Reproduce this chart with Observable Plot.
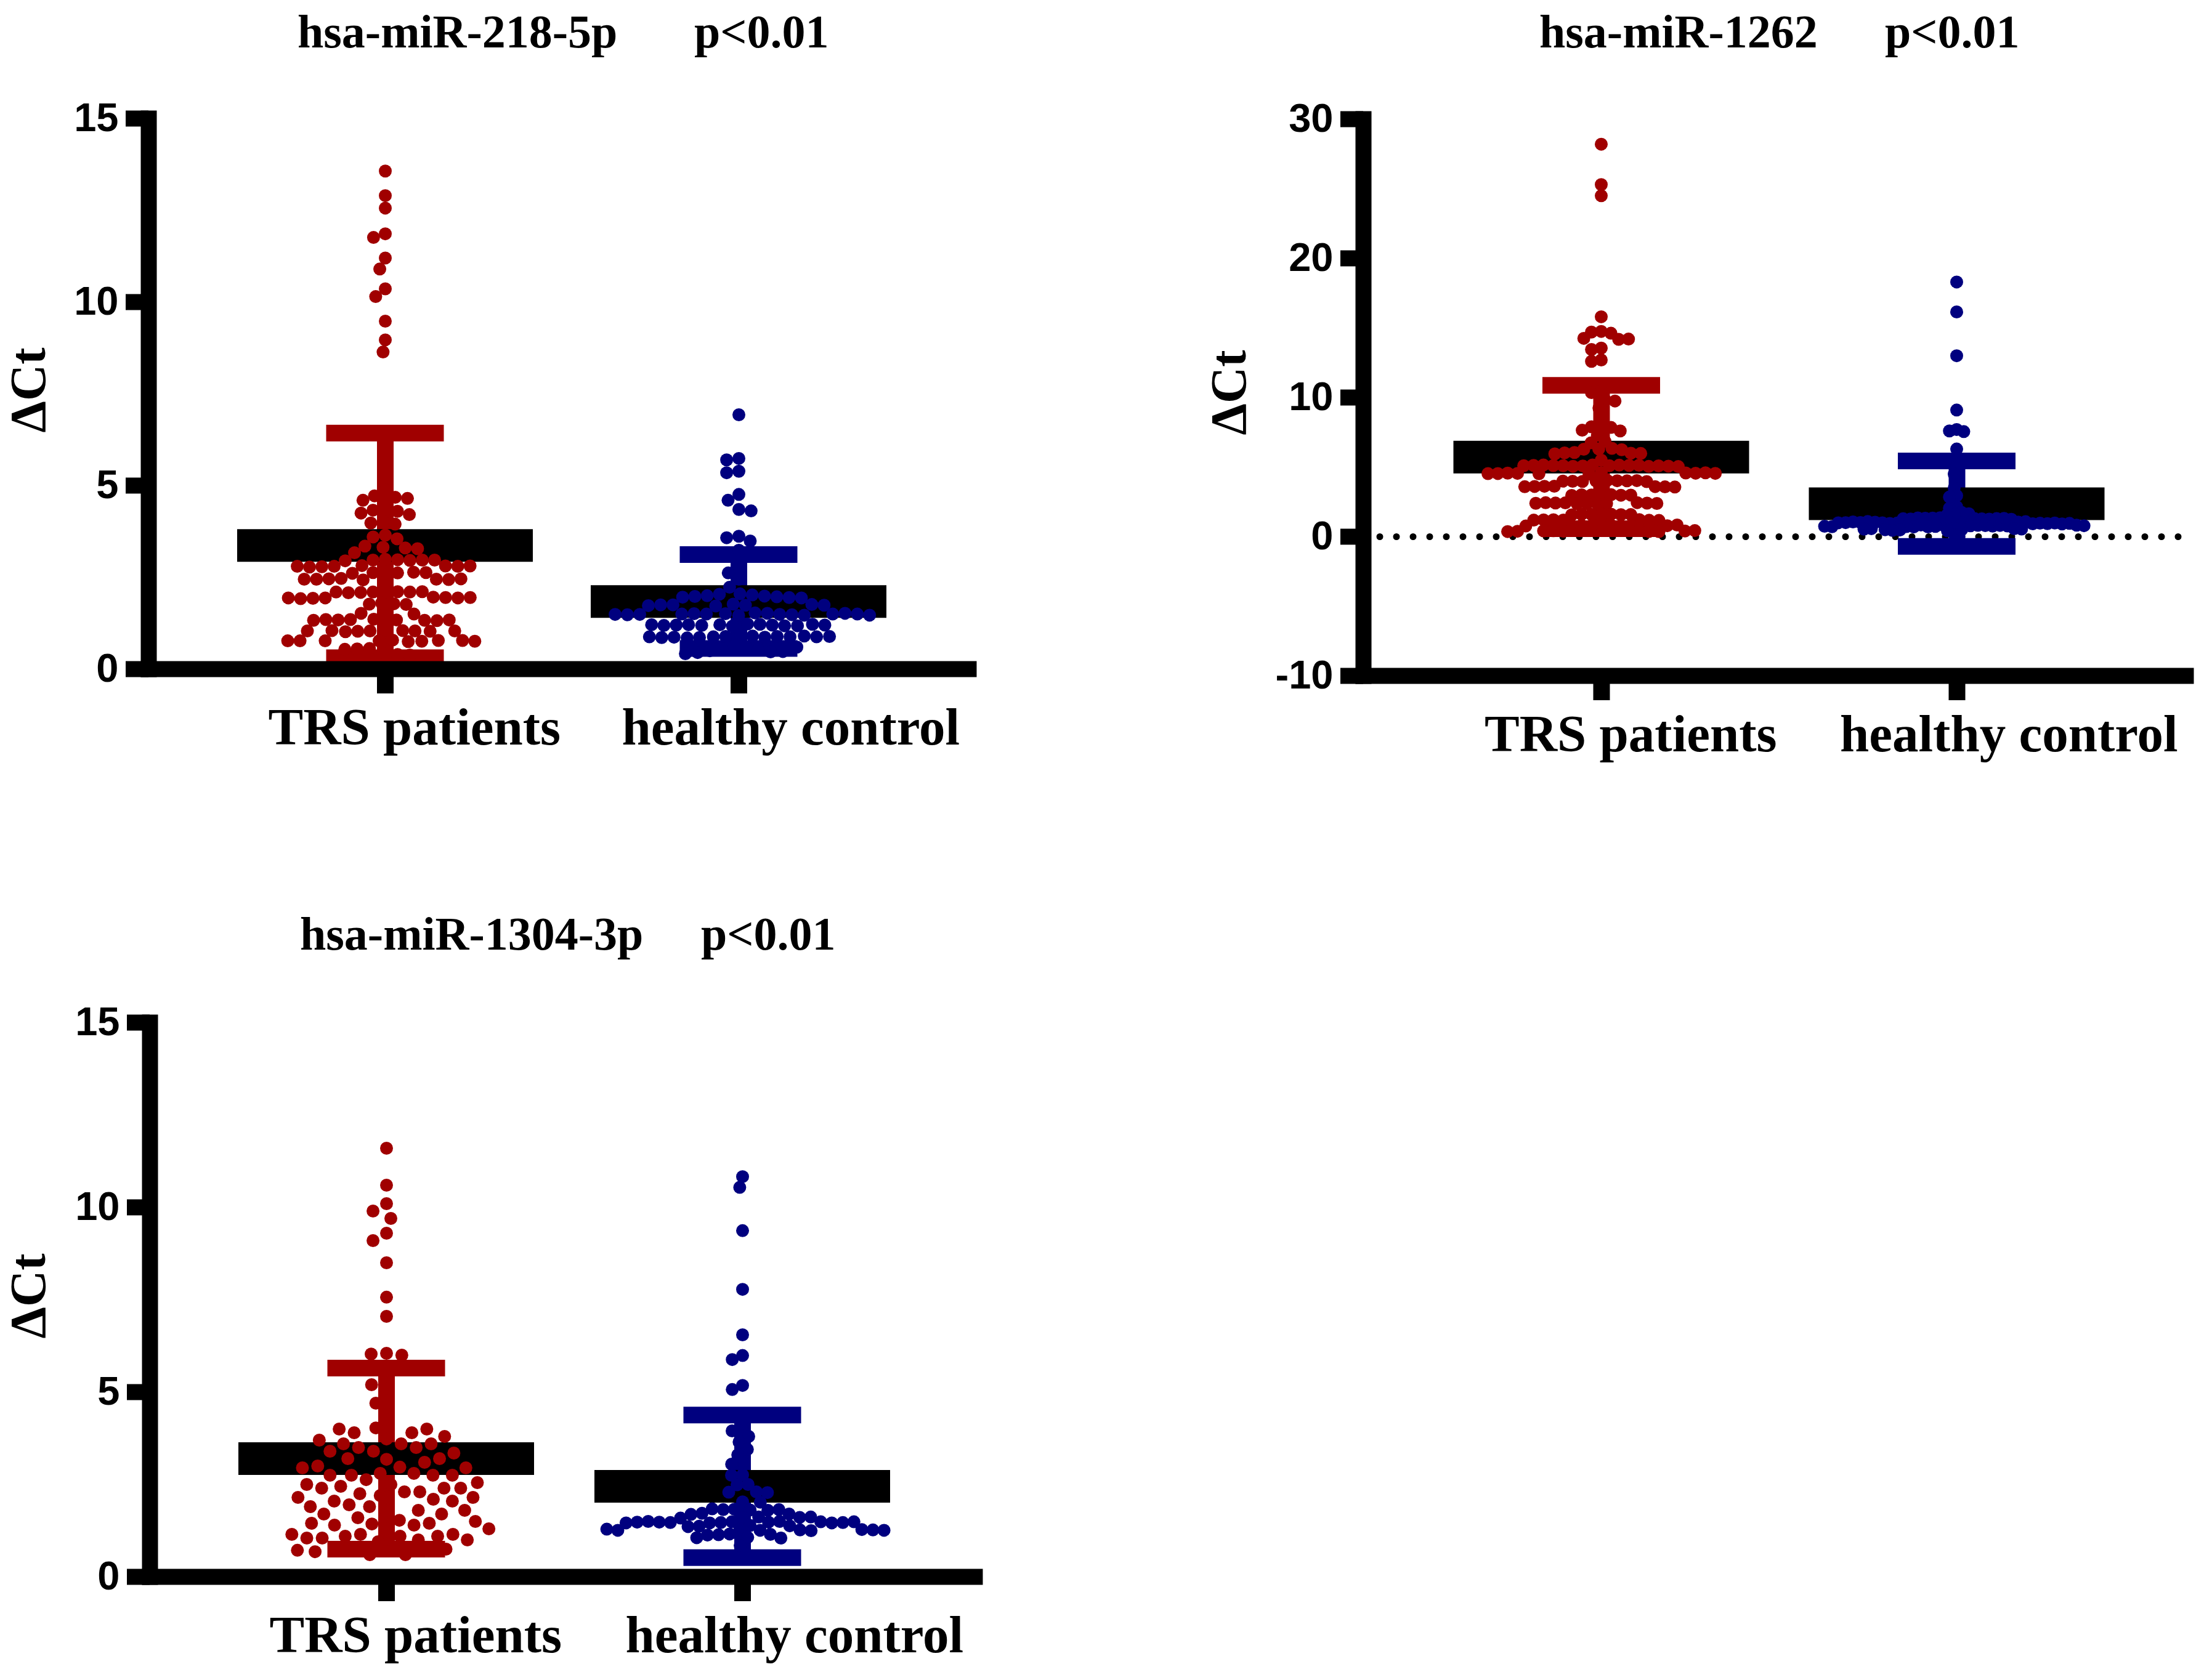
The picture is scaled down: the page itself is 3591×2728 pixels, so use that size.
<!DOCTYPE html>
<html>
<head>
<meta charset="utf-8">
<script src="https://cdn.jsdelivr.net/npm/d3@7"></script>
<script src="https://cdn.jsdelivr.net/npm/@observablehq/plot@0.6"></script>
<style>
  body { margin: 0; background: #fff; }
  #page { position: relative; width: 3591px; height: 2728px; overflow: hidden; background: #fff; }
  .title { position: absolute; font-family: "Liberation Serif", "Times New Roman", serif; font-weight: bold;
           font-size: 76px; line-height: 76px; white-space: pre; color: #000; }
  .panel { position: absolute; }
</style>
</head>
<body>
<div id="page">
  <div class="title" style="left:483px;top:13px">hsa-miR-218-5p</div>
  <div class="title" style="left:1127px;top:13px">p&lt;0.01</div>
  <div class="title" style="left:2499px;top:13px">hsa-miR-1262</div>
  <div class="title" style="left:3060px;top:13px">p&lt;0.01</div>
  <div class="title" style="left:487px;top:1478px">hsa-miR-1304-3p</div>
  <div class="title" style="left:1138px;top:1478px">p&lt;0.01</div>
</div>
<script>
const groups = ["TRS patients", "healthy control"];
const red = "#a00000";
const blue = "#00007f";

// hsa-miR-218-5p
const mir218TRS = [13.57, 12.9, 12.56, 11.86, 11.76, 11.2, 10.9, 10.36, 10.15, 9.48, 8.97, 8.64,
  4.88, 4.72, 4.68, 4.65, 4.6, 4.35, 4.33, 4.3, 4.25, 4.21, 4.02, 3.98, 3.95,
  3.65, 3.6, 3.55, 3.35, 3.32, 3.3, 3.28, 3.17,
  2.99, 2.97, 2.98, 2.96, 2.97, 2.95, 2.97,
  2.82, 2.8, 2.81, 2.79, 2.8, 2.78, 2.81, 2.8,
  2.65, 2.63, 2.62, 2.64, 2.61, 2.63,
  2.47, 2.45, 2.46, 2.44, 2.45, 2.43, 2.46, 2.45,
  2.12, 2.1, 2.11, 2.09, 2.1, 2.08, 2.11, 2.1,
  1.96, 1.94, 1.95, 1.93, 1.94, 1.92, 1.95, 1.94,
  1.8, 1.78, 1.77, 1.76,
  1.52, 1.5, 1.48,
  1.36, 1.34, 1.35, 1.33, 1.34, 1.32, 1.35, 1.34, 1.33,
  1.06, 1.04, 1.05, 1.03, 1.04, 1.02, 1.05, 1.04, 1.03, 1.04,
  0.79, 0.77, 0.78, 0.76, 0.77, 0.75, 0.78, 0.77, 0.76, 0.77,
  0.56, 0.55, 0.54, 0.42, 0.4, 0.38];
const mir218HC = [6.93, 5.74, 5.7, 5.39, 5.35, 4.76, 4.6, 4.35, 4.31, 3.62, 3.58, 3.49, 3.24, 2.79, 2.62, 2.45, 2.23,
  2.05, 2.02, 2.04, 1.99, 2.0, 1.97, 1.98, 1.95, 1.96, 1.94,
  1.77, 1.75, 1.76, 1.74, 1.75, 1.72, 1.74, 1.73,
  1.53, 1.51, 1.52, 1.5, 1.49, 1.51, 1.48, 1.5, 1.47, 1.5, 1.49, 1.52, 1.46, 1.48, 1.5, 1.49, 1.47,
  1.23, 1.21, 1.22, 1.2, 1.19, 1.21, 1.18, 1.2, 1.17, 1.22, 1.19, 1.2, 1.18, 1.21,
  0.91, 0.89, 0.9, 0.88, 0.87, 0.89, 0.86, 0.88, 0.85, 0.9, 0.87, 0.88, 0.86, 0.89, 0.88,
  0.62, 0.58, 0.6, 0.55, 0.52, 0.5, 0.47, 0.45, 0.48, 0.42];
const mir218Mean = [3.37, 1.84];
const mir218SD = [3.06, 1.28];

// hsa-miR-1262
const mir1262TRS = [28.2, 25.3, 24.5, 15.8, 14.75, 14.7, 14.62, 14.25, 14.18, 14.2, 13.55, 13.45, 12.7, 12.6,
  10.45, 10.35, 9.8, 9.75, 9.25, 7.95, 7.9, 7.85, 7.65, 7.6, 7.3, 6.85, 6.75,
  6.35, 6.3, 6.28, 6.25, 6.05, 6.0, 6.02, 5.98, 5.95, 5.5,
  5.16, 5.1, 5.14, 5.08, 5.12, 5.06, 5.13, 5.1, 5.05, 5.11, 5.09, 5.15, 5.07, 5.12, 5.04, 5.1,
  4.6, 4.55, 4.58, 4.52, 4.57, 4.5, 4.56, 4.54, 4.59, 4.53, 4.55,
  4.04, 4.0, 4.02, 3.97, 4.01, 3.98, 4.03, 3.99, 3.96,
  3.63, 3.6, 3.62, 3.58, 3.61, 3.57, 3.59,
  3.03, 3.0, 3.02, 2.98, 3.01, 2.97, 2.99,
  2.45, 2.4, 2.43, 2.38, 2.42, 2.36, 2.41, 2.39, 2.44, 2.37, 2.4,
  1.63, 1.6, 1.62, 1.58, 1.61, 1.57, 1.59,
  1.23, 1.2, 1.22, 1.18, 1.21, 1.17, 1.19,
  0.85, 0.8, 0.83, 0.78, 0.82, 0.76, 0.81, 0.79, 0.84, 0.77,
  0.45, 0.4, 0.43, 0.38, 0.42, 0.36, 0.41, 0.39, 0.44, 0.37];
const mir1262HC = [18.3, 16.15, 13.0, 9.1, 7.7, 7.6, 7.55, 6.3, 5.0, 4.5, 4.0, 3.5, 2.95, 2.85, 2.15, 2.05, 1.75, 1.65, 1.6, 1.55,
  1.36, 1.31, 1.34, 1.28, 1.33, 1.26, 1.35, 1.3, 1.27, 1.32, 1.29, 1.25,
  1.1, 1.03, 1.07, 0.98, 1.05, 0.95, 1.08, 1.0, 0.93, 1.04, 0.97, 1.09, 0.94, 1.02, 0.99, 1.06, 0.92, 1.01, 0.96, 1.0,
  0.85, 0.78, 0.82, 0.74, 0.8, 0.71, 0.84, 0.76, 0.7, 0.81, 0.73, 0.83, 0.77, 0.72, 0.79, 0.75,
  0.6, 0.52, 0.57, 0.48, 0.55, 0.45, 0.58, 0.5, 0.43, 0.54];
const mir1262Mean = [5.72, 2.37];
const mir1262SD = [5.15, 3.07];

// hsa-miR-1304-3p
const mir1304TRS = [11.6, 10.6, 10.1, 9.9, 9.7, 9.3, 9.1, 8.5, 7.57, 7.05, 6.05, 6.03, 6.0,
  1.3, 0.95,
  3.18, 2.8, 2.5, 2.2, 1.8, 1.43, 1.1,
  3.73, 3.4, 2.97, 2.63, 2.3, 1.53, 1.15, 0.7,
  4.03, 3.6, 2.8, 2.25, 1.9, 1.4, 1.0,
  5.1, 4.4, 3.9, 3.5, 2.75, 2.3, 1.95, 1.1,
  5.2, 3.9, 3.5, 3.1, 2.75, 2.45, 2.1, 1.8, 1.45, 1.1, 0.8,
  4.7, 4.0, 3.6, 3.2, 2.75, 2.4, 2.05, 1.7, 1.4, 1.05, 0.6,
  4.0, 3.6, 3.2, 2.75, 2.4, 2.05, 1.7, 1.15,
  3.8, 3.4, 3.0, 2.4, 1.9, 1.6, 0.6,
  3.7, 3.35, 2.95, 2.5, 2.15, 1.8, 1.45, 1.05, 0.7,
  2.95, 2.55, 2.15, 1.5, 1.15,
  1.3, 1.0, 0.75, 0.7, 0.68, 0.72];
const mir1304HC = [10.83, 10.54, 9.37, 7.78, 6.55, 5.99, 5.88, 5.18, 5.07, 4.05, 3.95, 3.8, 3.65, 3.45, 3.3,
  3.06, 3.05, 2.76, 2.75, 2.5, 2.49, 2.3, 2.29, 2.28, 2.03, 2.02,
  1.83, 1.81, 1.82, 1.8, 1.84, 1.82,
  1.72, 1.7, 1.69,
  1.62, 1.6, 1.61, 1.59, 1.62,
  1.49, 1.47, 1.48, 1.46, 1.5, 1.47, 1.49, 1.48, 1.46, 1.5, 1.47, 1.48, 1.49, 1.46,
  1.39, 1.37, 1.38, 1.36,
  1.28, 1.26, 1.27, 1.25, 1.28, 1.26, 1.27, 1.29, 1.26,
  1.16, 1.14, 1.15, 1.13,
  1.07, 1.05, 1.06,
  0.85];
const mir1304Mean = [3.2, 2.45];
const mir1304SD = [2.45, 1.93];

const serif = "Liberation Serif, Times New Roman, serif";
const sans = "Liberation Sans, Arial, sans-serif";

function panel(p) {
  const stats = groups.map((g, i) => ({group: g, mean: p.mean[i], sd: p.sd[i]}));
  const xs = Plot.scale({x: {type: "band", domain: groups, range: p.xRange, padding: 0}});
  const mid = (p.marginLeft + p.width - p.marginRight) / 2;
  // offset from the frame middle (dodge anchor) to the band centre;
  // Plot already shifts marks by half a band on a band x scale
  const shift = (g) => xs.apply(g) - mid;
  const barInset = (xs.bandwidth - 480) / 2;
  const capInset = (xs.bandwidth - 191) / 2;
  const swarm = (values, g, color, padding) =>
    Plot.dot(values, Plot.dodgeX({anchor: "middle", padding},
      {y: (d) => d, r: 10.5, fill: color, dx: shift(g)}));

  const chart = Plot.plot({
    width: p.width,
    height: p.height,
    marginTop: p.marginTop,
    marginBottom: p.marginBottom,
    marginLeft: p.marginLeft,
    marginRight: p.marginRight,
    style: {background: "none", color: "black"},
    x: {type: "band", domain: groups, range: p.xRange, padding: 0},
    y: {domain: p.yDomain},
    color: {domain: groups, range: [red, blue]},
    marks: [
      p.zeroLine ? Plot.ruleY([0], {strokeWidth: 11, strokeDasharray: "0 27", strokeLinecap: "round"}) : null,
      Plot.ruleX(stats, {x: "group", y1: (d) => d.mean - d.sd, y2: (d) => d.mean + d.sd, stroke: "group", strokeWidth: 27}),
      Plot.tickY(stats, {x: "group", y: (d) => d.mean + d.sd, stroke: "group", strokeWidth: 27, inset: capInset}),
      Plot.tickY(stats, {x: "group", y: (d) => d.mean - d.sd, stroke: "group", strokeWidth: 27, inset: capInset}),
      Plot.tickY(stats, {x: "group", y: "mean", stroke: "black", strokeWidth: 53, inset: barInset}),
      swarm(p.trs, groups[0], red, p.padTRS),
      swarm(p.hc, groups[1], blue, p.padHC),
      Plot.frame({anchor: "left", strokeWidth: 26, strokeLinecap: "square"}),
      Plot.frame({anchor: "bottom", strokeWidth: 26, strokeLinecap: "square"}),
      Plot.axisY({ticks: p.yTicks, tickFormat: (d) => `${d}`, tickSize: 37, tickPadding: 12, strokeWidth: 26,
        fontSize: 65, fontWeight: "bold", fontFamily: sans, label: null}),
      Plot.axisX({tickSize: 40, strokeWidth: 27, fill: "none", label: null}),
      Plot.text(groups, {x: (d) => d, frameAnchor: "bottom", lineAnchor: "bottom", textAnchor: "start",
        dx: -190, dy: 122, fontSize: 85, fontWeight: "bold", fontFamily: serif}),
      Plot.text(["ΔCt"], {frameAnchor: "left", textAnchor: "middle", lineAnchor: "middle", rotate: -90,
        dx: p.yLabelDx, dy: p.yLabelDy, fontSize: 82, fontWeight: "bold", fontFamily: serif})
    ]
  });
  const box = document.createElement("div");
  box.className = "panel";
  box.style.left = p.left + "px";
  box.style.top = p.top + "px";
  box.append(chart);
  document.getElementById("page").prepend(box);
}

panel({trs: mir218TRS, hc: mir218HC, mean: mir218Mean, sd: mir218SD,
  left: 0, top: 100, width: 1650, height: 1250,
  marginTop: 92, marginBottom: 264, marginLeft: 241, marginRight: 78,
  xRange: [338, 1486], yDomain: [0, 15], yTicks: [0, 5, 10, 15], yLabelDx: -195, yLabelDy: -6,
  padTRS: -1, padHC: -1});

panel({trs: mir1262TRS, hc: mir1262HC, mean: mir1262Mean, sd: mir1262SD,
  left: 1900, top: 100, width: 1691, height: 1250,
  marginTop: 93, marginBottom: 253, marginLeft: 313, marginRight: 43,
  xRange: [410.5, 1564.5], yDomain: [-10, 30], yTicks: [-10, 0, 10, 20, 30], yLabelDx: -218, yLabelDy: -8,
  padTRS: -5, padHC: -9, zeroLine: true});

panel({trs: mir1304TRS, hc: mir1304HC, mean: mir1304Mean, sd: mir1304SD,
  left: 0, top: 1560, width: 1650, height: 1168,
  marginTop: 100, marginBottom: 168, marginLeft: 243, marginRight: 68,
  xRange: [338, 1494], yDomain: [0, 15], yTicks: [0, 5, 10, 15], yLabelDx: -197, yLabelDy: -6,
  padTRS: 4, padHC: -3});
</script>
</body>
</html>
